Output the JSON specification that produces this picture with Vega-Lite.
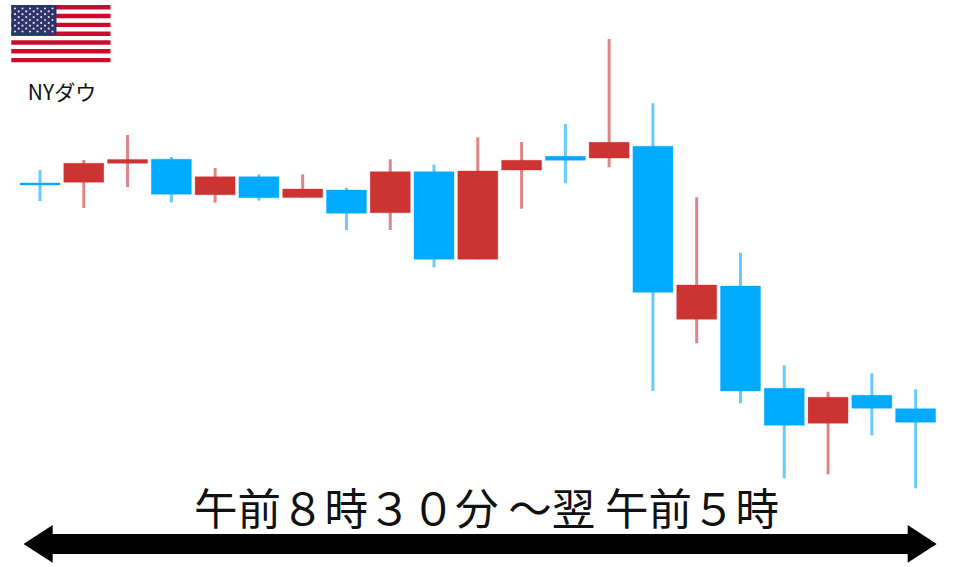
{"$schema":"https://vega.github.io/schema/vega-lite/v6.json","autosize":{"type":"fit","contains":"padding"},"padding":0,"width":960,"height":567,"background":"white","view":{"stroke":null},
"datasets":{
"candles":[
{"i":1,"high":397,"top":384,"bottom":382,"low":366,"kind":"blue"},
{"i":2,"high":407,"top":403.7,"bottom":384.7,"low":359,"kind":"red"},
{"i":3,"high":432,"top":407.5,"bottom":403.7,"low":380,"kind":"red"},
{"i":4,"high":410,"top":407.7,"bottom":372.7,"low":364.5,"kind":"blue"},
{"i":5,"high":399,"top":390.3,"bottom":372.3,"low":364.3,"kind":"red"},
{"i":6,"high":392.7,"top":390.3,"bottom":369.3,"low":366.3,"kind":"blue"},
{"i":7,"high":392.7,"top":378,"bottom":369.5,"low":369.5,"kind":"red"},
{"i":8,"high":379.3,"top":377,"bottom":353.7,"low":337,"kind":"blue"},
{"i":9,"high":407.7,"top":395.3,"bottom":354.3,"low":337,"kind":"red"},
{"i":10,"high":402.3,"top":395.3,"bottom":307.7,"low":299.7,"kind":"blue"},
{"i":11,"high":429.7,"top":396,"bottom":307.7,"low":307.7,"kind":"red"},
{"i":12,"high":425,"top":406.7,"bottom":397,"low":358.3,"kind":"red"},
{"i":13,"high":443,"top":410.7,"bottom":406.7,"low":383.7,"kind":"blue"},
{"i":14,"high":528,"top":424.7,"bottom":409,"low":399.7,"kind":"red"},
{"i":15,"high":463.7,"top":420.7,"bottom":274.7,"low":176,"kind":"blue"},
{"i":16,"high":369.7,"top":282,"bottom":247.7,"low":223.7,"kind":"red"},
{"i":17,"high":314.3,"top":281,"bottom":176,"low":163.7,"kind":"blue"},
{"i":18,"high":201.7,"top":178.7,"bottom":141.7,"low":88.7,"kind":"blue"},
{"i":19,"high":175.3,"top":169.7,"bottom":143.7,"low":92.7,"kind":"red"},
{"i":20,"high":193.7,"top":171.7,"bottom":158.7,"low":131.7,"kind":"blue"},
{"i":21,"high":177.7,"top":158.3,"bottom":144.7,"low":78.7,"kind":"blue"}],
"flag":[
{"a":11.3,"b":110.5,"y1":562,"y2":557.6,"part":"stripe"},
{"a":11.3,"b":110.5,"y1":553.2,"y2":548.8,"part":"stripe"},
{"a":11.3,"b":110.5,"y1":544.3,"y2":539.9,"part":"stripe"},
{"a":11.3,"b":110.5,"y1":535.5,"y2":531.1,"part":"stripe"},
{"a":11.3,"b":110.5,"y1":526.7,"y2":522.3,"part":"stripe"},
{"a":11.3,"b":110.5,"y1":517.9,"y2":513.5,"part":"stripe"},
{"a":11.3,"b":110.5,"y1":509.1,"y2":504.7,"part":"stripe"},
{"a":11.3,"b":56.5,"y1":562,"y2":532,"part":"canton"}],
"stars":[
{"a":15,"v":558.5},{"a":22.5,"v":558.5},{"a":30,"v":558.5},{"a":37.5,"v":558.5},{"a":45,"v":558.5},{"a":52.5,"v":558.5},
{"a":18.7,"v":555.6},{"a":26.2,"v":555.6},{"a":33.7,"v":555.6},{"a":41.2,"v":555.6},{"a":48.7,"v":555.6},
{"a":15,"v":552.8},{"a":22.5,"v":552.8},{"a":30,"v":552.8},{"a":37.5,"v":552.8},{"a":45,"v":552.8},{"a":52.5,"v":552.8},
{"a":18.7,"v":549.9},{"a":26.2,"v":549.9},{"a":33.7,"v":549.9},{"a":41.2,"v":549.9},{"a":48.7,"v":549.9},
{"a":15,"v":547},{"a":22.5,"v":547},{"a":30,"v":547},{"a":37.5,"v":547},{"a":45,"v":547},{"a":52.5,"v":547},
{"a":18.7,"v":544.1},{"a":26.2,"v":544.1},{"a":33.7,"v":544.1},{"a":41.2,"v":544.1},{"a":48.7,"v":544.1},
{"a":15,"v":541.3},{"a":22.5,"v":541.3},{"a":30,"v":541.3},{"a":37.5,"v":541.3},{"a":45,"v":541.3},{"a":52.5,"v":541.3},
{"a":18.7,"v":538.4},{"a":26.2,"v":538.4},{"a":33.7,"v":538.4},{"a":41.2,"v":538.4},{"a":48.7,"v":538.4},
{"a":15,"v":535.5},{"a":22.5,"v":535.5},{"a":30,"v":535.5},{"a":37.5,"v":535.5},{"a":45,"v":535.5},{"a":52.5,"v":535.5}],
"shaft":[{"a":52,"b":908.5,"y1":33,"y2":13}],
"heads":[
{"side":"left","a":23.5,"y1":23,"y2":23},
{"side":"left","a":52.7,"y1":42,"y2":4.3},
{"side":"right","a":907.7,"y1":42,"y2":4.3},
{"side":"right","a":936.7,"y1":23,"y2":23}],
"labels":[
{"a":62,"v":467,"text":"NYダウ","fs":"small"},
{"a":486.5,"v":42,"text":"午前８時３０分 ～翌 午前５時","fs":"large"}]
},
"encoding":{},
"layer":[
{"data":{"name":"candles"},"mark":{"type":"rule","strokeWidth":3,"opacity":0.6},
"encoding":{"x":{"field":"i","type":"quantitative","scale":{"domain":[0.0863,22.014],"nice":false,"zero":false,"padding":0},"axis":null},"y":{"field":"high","type":"quantitative","scale":{"domain":[0,567]},"axis":null},"y2":{"field":"low"},"color":{"field":"kind","type":"nominal","scale":{"domain":["blue","red"],"range":["#00AAFF","#CC3333"]},"legend":null}}},
{"data":{"name":"candles"},"mark":{"type":"bar","size":40,"strokeWidth":1,"strokeOpacity":0.35},
"encoding":{"x":{"field":"i","type":"quantitative","scale":{"domain":[0.0863,22.014],"nice":false,"zero":false,"padding":0},"axis":null},"y":{"field":"top","type":"quantitative","scale":{"domain":[0,567]},"axis":null},"y2":{"field":"bottom"},"color":{"field":"kind","type":"nominal","scale":{"domain":["blue","red"],"range":["#00AAFF","#CC3333"]},"legend":null},"stroke":{"field":"kind","type":"nominal","scale":{"domain":["blue","red"],"range":["#00AAFF","#CC3333"]},"legend":null}}},
{"data":{"name":"flag"},"mark":{"type":"rect"},
"encoding":{"x":{"field":"a","type":"quantitative","scale":{"domain":[0,960]},"axis":null},"x2":{"field":"b"},"y":{"field":"y1","type":"quantitative","scale":{"domain":[0,567]},"axis":null},"y2":{"field":"y2"},"color":{"field":"part","type":"nominal","scale":{"domain":["stripe","canton"],"range":["#CC0A2B","#2B3468"]},"legend":null}}},
{"data":{"name":"stars"},"mark":{"type":"point","filled":true,"size":5,"color":"white","opacity":0.8},
"encoding":{"x":{"field":"a","type":"quantitative","scale":{"domain":[0,960]},"axis":null},"y":{"field":"v","type":"quantitative","scale":{"domain":[0,567]},"axis":null}}},
{"data":{"name":"shaft"},"mark":{"type":"rect","color":"black"},
"encoding":{"x":{"field":"a","type":"quantitative","scale":{"domain":[0,960]},"axis":null},"x2":{"field":"b"},"y":{"field":"y1","type":"quantitative","scale":{"domain":[0,567]},"axis":null},"y2":{"field":"y2"}}},
{"data":{"name":"heads"},"mark":{"type":"area","color":"black","orient":"vertical"},
"encoding":{"x":{"field":"a","type":"quantitative","scale":{"domain":[0,960]},"axis":null},"y":{"field":"y1","type":"quantitative","scale":{"domain":[0,567]},"axis":null,"stack":null},"y2":{"field":"y2"},"detail":{"field":"side"}}},
{"data":{"name":"labels"},"mark":{"type":"text","font":"Noto Sans CJK JP","color":"#111111","align":"center","baseline":"alphabetic"},
"encoding":{"x":{"field":"a","type":"quantitative","scale":{"domain":[0,960]},"axis":null},"y":{"field":"v","type":"quantitative","scale":{"domain":[0,567]},"axis":null},"text":{"field":"text"},"size":{"field":"fs","type":"nominal","scale":{"domain":["small","large"],"range":[21,43.5]},"legend":null}}}
],
"resolve":{"scale":{"x":"independent","color":"independent","stroke":"independent"}},
"config":{"style":{"cell":{"stroke":null}}}}
